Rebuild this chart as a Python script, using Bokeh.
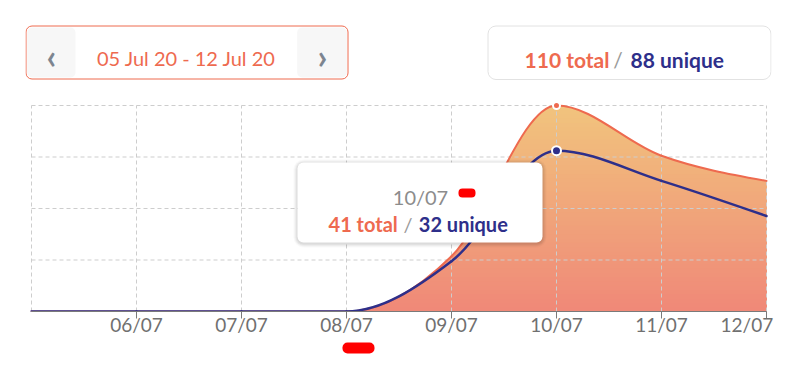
import numpy as np
from bokeh.plotting import figure
from bokeh.models import Range1d, FixedTicker, BoxAnnotation, Label
from bokeh.layouts import column
from bokeh.embed import file_html
from bokeh.resources import INLINE

# ---------------- data ----------------
DAYS = ["05/07", "06/07", "07/07", "08/07", "09/07", "10/07", "11/07", "12/07"]
TOTAL = [0, 0, 0, 0, 11, 41, 31, 26]
UNIQUE = [0, 0, 0, 0, 10, 32, 26, 19]
RANGE_LABEL = "05 Jul 20 - 12 Jul 20"
PERIOD_TOTAL = 110
PERIOD_UNIQUE = 88
HOVER_INDEX = 5

# ---------------- style ----------------
CORAL = "#EE6A4F"
INDIGO = "#2E2F8A"
GRID = "#CDCDCD"
FONT = "Lato"
W = 797
FX0, FX1 = 25, 771          # shared frame span (page px)

# ---------------- helpers ----------------
def monotone_tangents(x, y):
    x = np.asarray(x, float); y = np.asarray(y, float)
    h = np.diff(x); s = np.diff(y) / h
    n = len(x); t = np.zeros(n)
    sg = lambda v: -1.0 if v < 0 else 1.0
    for i in range(1, n - 1):
        h0, h1, s0, s1 = h[i - 1], h[i], s[i - 1], s[i]
        p = (s0 * h1 + s1 * h0) / (h0 + h1)
        t[i] = (sg(s0) + sg(s1)) * min(abs(s0), abs(s1), 0.5 * abs(p))
    t[0] = (3 * s[0] - t[1]) / 2
    t[-1] = (3 * s[-1] - t[-2]) / 2
    return t

def bezier_segments(x, y):
    x = np.asarray(x, float); y = np.asarray(y, float)
    t = monotone_tangents(x, y)
    dx = (x[1:] - x[:-1]) / 3.0
    return dict(x0=x[:-1], y0=y[:-1], x1=x[1:], y1=y[1:],
                cx0=x[:-1] + dx, cy0=y[:-1] + dx * t[:-1],
                cx1=x[1:] - dx, cy1=y[1:] - dx * t[1:])

def sample(seg, m=30):
    xs, ys = [], []
    u = np.linspace(0, 1, m)
    for i in range(len(seg["x0"])):
        a = (1 - u) ** 3; b = 3 * (1 - u) ** 2 * u; c = 3 * (1 - u) * u ** 2; d = u ** 3
        bx = a * seg["x0"][i] + b * seg["cx0"][i] + c * seg["cx1"][i] + d * seg["x1"][i]
        by = a * seg["y0"][i] + b * seg["cy0"][i] + c * seg["cy1"][i] + d * seg["y1"][i]
        if i > 0:
            bx, by = bx[1:], by[1:]
        xs.append(bx); ys.append(by)
    return np.concatenate(xs), np.concatenate(ys)

def mix(c0, c1, f):
    return "#%02x%02x%02x" % tuple(int(round(a + (b - a) * f)) for a, b in zip(c0, c1))

def box(p, l, r, t, b, fill, falpha=1.0, line=None, radius=0, lw=1):
    p.add_layout(BoxAnnotation(left=l, right=r, top=t, bottom=b,
                               fill_color=fill, fill_alpha=falpha,
                               line_color=line, line_alpha=1.0 if line else 0.0,
                               line_width=lw, border_radius=int(radius)))

def label(p, x, y, text, color, size, align="left", bold=False, baseline="alphabetic"):
    p.add_layout(Label(x=x, y=y, text=text, text_color=color, text_font=FONT,
                       text_font_size=size, text_align=align, text_baseline=baseline,
                       text_font_style="bold" if bold else "normal"))

def pixel_fig(top, bottom):
    f = figure(width=W, height=bottom - top, x_range=Range1d(FX0, FX1),
               y_range=Range1d(bottom, top), output_backend="svg",
               toolbar_location=None, x_axis_location=None, y_axis_location=None,
               min_border_left=FX0, min_border_right=W - FX1,
               min_border_top=0, min_border_bottom=0, outline_line_color=None)
    f.grid.visible = False
    return f

# ---------------- header (page px coordinates) ----------------
hdr = pixel_fig(0, 88)
box(hdr, 25.5, 347.5, 25.5, 78.5, "white", line=CORAL, radius=6)
box(hdr, 26.7, 75, 27, 77, "#F7F7F7", radius=5)
box(hdr, 296.7, 346.3, 27, 77, "#F7F7F7", radius=5)
label(hdr, 51, 55, "\u2039", "#7D8590", "34px", align="center", bold=True, baseline="middle")
label(hdr, 322, 55, "\u203a", "#7D8590", "34px", align="center", bold=True, baseline="middle")
label(hdr, 186, 57.5, RANGE_LABEL, CORAL, "20px", align="center")

box(hdr, 487.5, 770.5, 25.5, 79, "white", line="#E2E2E2", radius=8)
label(hdr, 609, 59, f"{PERIOD_TOTAL} total", CORAL, "21px", align="right", bold=True)
label(hdr, 617.5, 59, "/", "#9A9A9A", "21px", align="center")
label(hdr, 630, 59, f"{PERIOD_UNIQUE} unique", INDIGO, "21px", align="left", bold=True)

# ---------------- main chart ----------------
xs = np.arange(len(DAYS), dtype=float)
Y_TOP = float(max(TOTAL))
YS = 206.0 / Y_TOP          # px per unit
FL, FB = 31.0, 311.0        # position of first day / zero line (page px)
DXP = 105.0                 # px per day

def xv(px):
    return (px - FL) / DXP

def yv(py):
    return (FB - py) / YS

main = figure(width=W, height=341 - 88, x_range=Range1d(xv(FX0), xv(FX1)),
              y_range=Range1d(0, yv(97)),
              output_backend="svg", toolbar_location=None,
              y_axis_location=None, min_border_left=FX0, min_border_right=W - FX1,
              min_border_top=97 - 88, min_border_bottom=341 - 311, outline_line_color=None)
main.grid.visible = False

seg_t = bezier_segments(xs, TOTAL)
seg_u = bezier_segments(xs, UNIQUE)
bx, by = sample(seg_t)

# gradient area fill
TOP_C = (241, 196, 125)
BOT_C = (240, 136, 120)
N = 48
for k in range(N):
    hi = Y_TOP * (N - k) / N
    f = (hi - Y_TOP / (2 * N)) / Y_TOP
    main.varea(x=bx, y1=np.zeros_like(by), y2=np.minimum(by, hi), fill_color=mix(BOT_C, TOP_C, f))

# grid
levels = np.linspace(0, Y_TOP, 5)[1:]
main.segment(x0=xs, y0=np.zeros_like(xs), x1=xs, y1=np.full_like(xs, Y_TOP),
             line_color=GRID, line_width=1, line_dash="4 3")
main.segment(x0=np.zeros_like(levels), y0=levels, x1=np.full_like(levels, xs[-1]), y1=levels,
             line_color=GRID, line_width=1, line_dash="4 3")

# lines
main.bezier(line_color=CORAL, line_width=2, line_cap="round", **seg_t)
main.bezier(line_color=INDIGO, line_width=2.5, line_cap="round", **seg_u)

main.scatter([xs[HOVER_INDEX]], [TOTAL[HOVER_INDEX]], size=7, fill_color=CORAL,
             line_color="white", line_width=2)
main.scatter([xs[HOVER_INDEX]], [UNIQUE[HOVER_INDEX]], size=9, fill_color=INDIGO,
             line_color="white", line_width=2)

# axis
ax = main.xaxis[0]
ticks = list(range(1, len(DAYS)))
ax.ticker = FixedTicker(ticks=ticks)
ax.bounds = (0, len(DAYS) - 1)
ov = {i: DAYS[i] for i in ticks}
ov[ticks[-1]] = DAYS[ticks[-1]] + "\u00a0" * 5
ax.major_label_overrides = ov
ax.axis_line_color = "#7A7A7A"
ax.major_tick_line_color = "#7A7A7A"
ax.major_tick_out = 7
ax.major_tick_in = 0
ax.minor_tick_line_color = None
ax.major_label_text_font = FONT
ax.major_label_text_font_size = "19px"
ax.major_label_text_color = "#707070"
ax.major_label_standoff = -6

# tooltip
L, R, T, B = 297, 542, 162, 242
for e, a in [(4, 0.025), (3, 0.03), (2, 0.04), (1, 0.05)]:
    box(main, xv(L - e), xv(R + e), yv(T - e + 1), yv(B + e + 1), "black", falpha=a, radius=6 + e)
box(main, xv(L), xv(R), yv(T), yv(B), "white", radius=6)
label(main, xv(420), yv(196), DAYS[HOVER_INDEX], "#8C8C8C", "20px", align="center")
label(main, xv(397.3), yv(223), f"{TOTAL[HOVER_INDEX]} total", CORAL, "20px", align="right", bold=True)
label(main, xv(407.5), yv(223), "/", "#9A9A9A", "20px", align="center")
label(main, xv(418.3), yv(223), f"{UNIQUE[HOVER_INDEX]} unique", INDIGO, "20px", align="left", bold=True)

# red mark in tooltip
box(main, xv(458), xv(475), yv(188), yv(197), "#FF0000", radius=4)

# ---------------- bottom strip (page px coordinates) ----------------
strip = pixel_fig(341, 366)
box(strip, 342, 374, 342, 353, "#FF0000", radius=5)

layout = column(hdr, main, strip)
open("out.html", "w").write(file_html(layout, INLINE))
